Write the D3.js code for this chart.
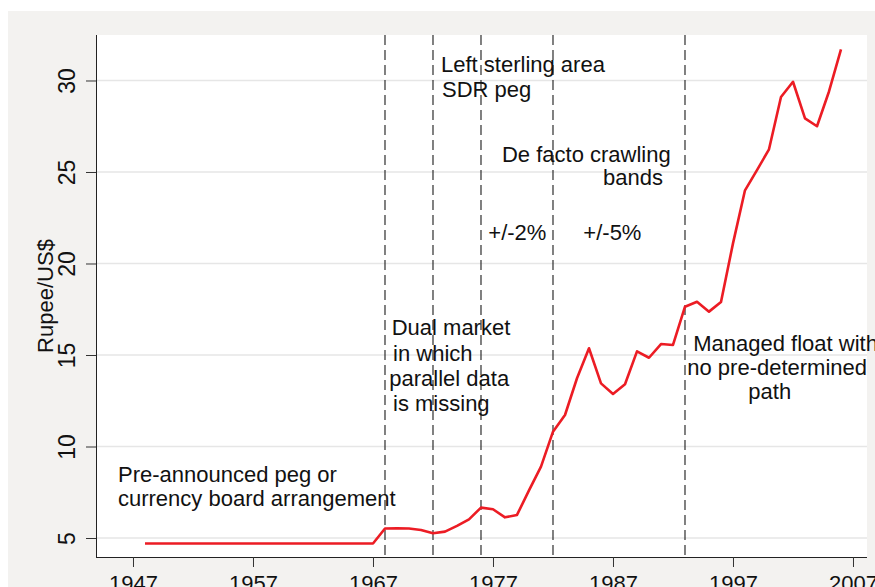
<!DOCTYPE html>
<html lang="en">
<head>
<meta charset="utf-8">
<title>Rupee/US$ exchange rate regimes</title>
<script src="https://d3js.org/d3.v7.min.js"></script>
<style>
  body { margin: 0; background: #fff; }
  svg text { font-family: "Liberation Sans", Arial, sans-serif; fill: #111; }
</style>
</head>
<body>
<div id="chart"></div>
<script>

// annual rupee per US$ (1948 - 2006)
const years = [1948, 1949, 1950, 1951, 1952, 1953, 1954, 1955, 1956, 1957,
  1958, 1959, 1960, 1961, 1962, 1963, 1964, 1965, 1966, 1967,
  1968, 1969, 1970, 1971, 1972, 1973, 1974, 1975, 1976, 1977,
  1978, 1979, 1980, 1981, 1982, 1983, 1984, 1985, 1986, 1987,
  1988, 1989, 1990, 1991, 1992, 1993, 1994, 1995, 1996, 1997,
  1998, 1999, 2000, 2001, 2002, 2003, 2004, 2005, 2006];
const rates = [4.7, 4.7, 4.7, 4.7, 4.7, 4.7, 4.7, 4.7, 4.7, 4.7,
  4.7, 4.7, 4.7, 4.7, 4.7, 4.7, 4.7, 4.7, 4.7, 4.7,
  5.52, 5.53, 5.52, 5.44, 5.26, 5.35, 5.66, 6.02, 6.66, 6.57,
  6.13, 6.26, 7.6, 8.9, 10.81, 11.72, 13.73, 15.37, 13.45, 12.87,
  13.4, 15.2, 14.85, 15.6, 15.55, 17.64, 17.91, 17.37, 17.9, 21.1,
  24.0, 25.1, 26.24, 29.1, 29.93, 27.93, 27.5, 29.4, 31.7];

// years where the regime changes (dashed lines)
const regimeBreaks = [1968, 1972, 1976, 1982, 1993];

const xTicks = [1947, 1957, 1967, 1977, 1987, 1997, 2007];
const yTicks = [5, 10, 15, 20, 25, 30];
const yTitle = "Rupee/US$";

// text notes, placed in data units (year, rupee)
const noteText = ["Pre-announced peg or", "currency board arrangement",
  "Dual market", "in which", "parallel data", "is missing",
  "Left sterling area", "SDR peg",
  "De facto crawling", "bands",
  "+/-2%", "+/-5%",
  "Managed float with", "no pre-determined", "path"];
const noteYear = [1945.75, 1945.75,
  1968.56, 1968.67, 1968.36, 1968.67,
  1972.67, 1972.75,
  1977.75, 1986.17,
  1976.61, 1984.53,
  1993.69, 1993.19, 1998.28];
const noteValue = [8.06, 6.75,
  16.09, 14.69, 13.31, 11.94,
  30.45, 29.08,
  25.53, 24.3,
  21.28, 21.28,
  15.24, 13.91, 12.58];

const W = 875, H = 587;
const plot = { left: 96, right: 867, top: 35, bottom: 557 };

const svg = d3.select("#chart")
  .append("svg")
  .attr("width", W)
  .attr("height", H);

// outer (graph) background and plot region
svg.append("rect")
  .attr("x", 8).attr("y", 11)
  .attr("width", W - 8).attr("height", H - 11)
  .attr("fill", "#f3f2f0");
svg.append("rect")
  .attr("x", plot.left).attr("y", plot.top)
  .attr("width", plot.right - plot.left).attr("height", plot.bottom - plot.top)
  .attr("fill", "#fff");

const x = d3.scaleLinear()
  .domain([1943.917, 2008.167])
  .range([plot.left, plot.right]);
const y = d3.scaleLinear()
  .domain([3.962, 32.486])
  .range([plot.bottom, plot.top]);

// horizontal grid
svg.append("g")
  .selectAll("line")
  .data(yTicks)
  .join("line")
  .attr("x1", plot.left).attr("x2", plot.right)
  .attr("y1", d => y(d)).attr("y2", d => y(d))
  .attr("stroke", "#e6e6e6")
  .attr("stroke-width", 1.6);

// regime breaks
svg.append("g")
  .selectAll("line")
  .data(regimeBreaks)
  .join("line")
  .attr("x1", d => x(d)).attr("x2", d => x(d))
  .attr("y1", plot.top).attr("y2", plot.bottom)
  .attr("stroke", "#1a1a1a")
  .attr("stroke-width", 1.1)
  .attr("stroke-dasharray", "10,5");

// y axis
const yAxis = svg.append("g")
  .attr("transform", `translate(${plot.left},0)`)
  .call(d3.axisLeft(y).tickValues(yTicks).tickSize(10).tickPadding(21));
yAxis.select(".domain").attr("stroke", "#222").attr("d", `M0.5,${plot.top}V${plot.bottom}`);
yAxis.selectAll(".tick line").attr("stroke", "#333");
yAxis.selectAll(".tick text")
  .attr("x", null).attr("dy", null)
  .attr("transform", "translate(-21,0) rotate(-90)")
  .attr("text-anchor", "middle")
  .style("font-size", "23px");

svg.append("text")
  .attr("transform", `translate(53,${(plot.top + plot.bottom) / 2}) rotate(-90)`)
  .attr("text-anchor", "middle")
  .style("font-size", "22px")
  .text(yTitle);

// x axis
const xAxis = svg.append("g")
  .attr("transform", `translate(0,${plot.bottom})`)
  .call(d3.axisBottom(x).tickValues(xTicks).tickFormat(d3.format("d")).tickSize(10));
xAxis.select(".domain").attr("stroke", "#222").attr("d", `M${plot.left},0.5H${plot.right}`);
xAxis.selectAll(".tick line").attr("stroke", "#333");
xAxis.selectAll(".tick text")
  .attr("y", 34).attr("dy", null)
  .style("font-size", "22px");
svg.selectAll(".tick text").attr("fill", "#111");

// the series
const line = d3.line()
  .x((d, i) => x(years[i]))
  .y(d => y(d));

svg.append("path")
  .datum(rates)
  .attr("d", line)
  .attr("fill", "none")
  .attr("stroke", "#ec1c24")
  .attr("stroke-width", 2.6)
  .attr("stroke-linejoin", "round");

// notes
svg.append("g")
  .selectAll("text")
  .data(noteText)
  .join("text")
  .attr("x", (d, i) => x(noteYear[i]))
  .attr("y", (d, i) => y(noteValue[i]))
  .style("font-size", "22px")
  .text(d => d);

</script>
</body>
</html>
